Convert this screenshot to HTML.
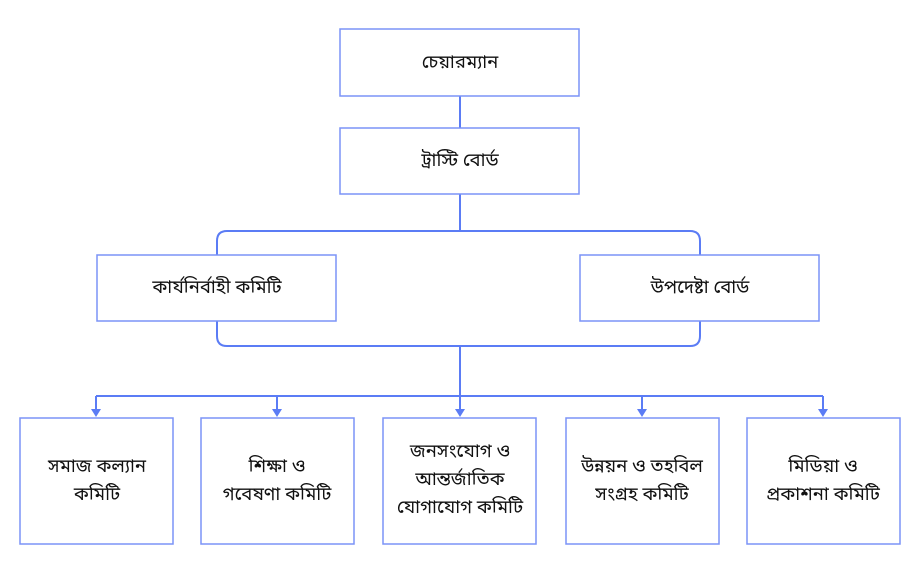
<!DOCTYPE html>
<html><head><meta charset="utf-8"><style>
body{margin:0;background:#fff;}
svg text{font-family:"Noto Sans Bengali","Liberation Sans","DejaVu Sans",sans-serif;font-size:18.5px;fill:#111;text-anchor:middle;dominant-baseline:middle;}
</style></head><body>
<svg width="920" height="575" viewBox="0 0 920 575" xmlns="http://www.w3.org/2000/svg">
<g stroke="#5b7cf5" stroke-width="2" fill="none">
<line x1="460" y1="96" x2="460" y2="128"/>
<line x1="460" y1="194" x2="460" y2="231"/>
<path d="M217,255 V241 Q217,231 227,231 H690 Q700,231 700,241 V255"/>
<path d="M217,321 V336 Q217,346 227,346 H690 Q700,346 700,336 V321"/>
<line x1="460" y1="346" x2="460" y2="396"/>
<line x1="96" y1="396" x2="823" y2="396"/>
<line x1="96" y1="396" x2="96" y2="410"/>
<line x1="277" y1="396" x2="277" y2="410"/>
<line x1="460" y1="396" x2="460" y2="410"/>
<line x1="642" y1="396" x2="642" y2="410"/>
<line x1="823" y1="396" x2="823" y2="410"/>
</g>
<g fill="#5b7cf5">
<path d="M91,409 H101 L96,417 Z"/>
<path d="M272,409 H282 L277,417 Z"/>
<path d="M455,409 H465 L460,417 Z"/>
<path d="M637,409 H647 L642,417 Z"/>
<path d="M818,409 H828 L823,417 Z"/>
</g>
<g stroke="#7b93f7" stroke-width="1.5" fill="#fff">
<rect x="340" y="29" width="239" height="67"/>
<rect x="340" y="128" width="239" height="66"/>
<rect x="97" y="255" width="239" height="66"/>
<rect x="580" y="255" width="239" height="66"/>
<rect x="20" y="418" width="153" height="126"/>
<rect x="201" y="418" width="153" height="126"/>
<rect x="383" y="418" width="153" height="126"/>
<rect x="566" y="418" width="153" height="126"/>
<rect x="747" y="418" width="153" height="126"/>
</g>
<text x="460" y="63">চেয়ারম্যান</text>
<text x="460" y="161">ট্রাস্টি বোর্ড</text>
<text x="217" y="288">কার্যনির্বাহী কমিটি</text>
<text x="700" y="288">উপদেষ্টা বোর্ড</text>
<text x="97" y="467">সমাজ কল্যান</text>
<text x="97" y="495">কমিটি</text>
<text x="277" y="467">শিক্ষা ও</text>
<text x="277" y="495">গবেষণা কমিটি</text>
<text x="460" y="452">জনসংযোগ ও</text>
<text x="460" y="480">আন্তর্জাতিক</text>
<text x="460" y="508">যোগাযোগ কমিটি</text>
<text x="642" y="467">উন্নয়ন ও তহবিল</text>
<text x="642" y="495">সংগ্রহ কমিটি</text>
<text x="823" y="467">মিডিয়া ও</text>
<text x="823" y="495">প্রকাশনা কমিটি</text>
</svg>
</body></html>
